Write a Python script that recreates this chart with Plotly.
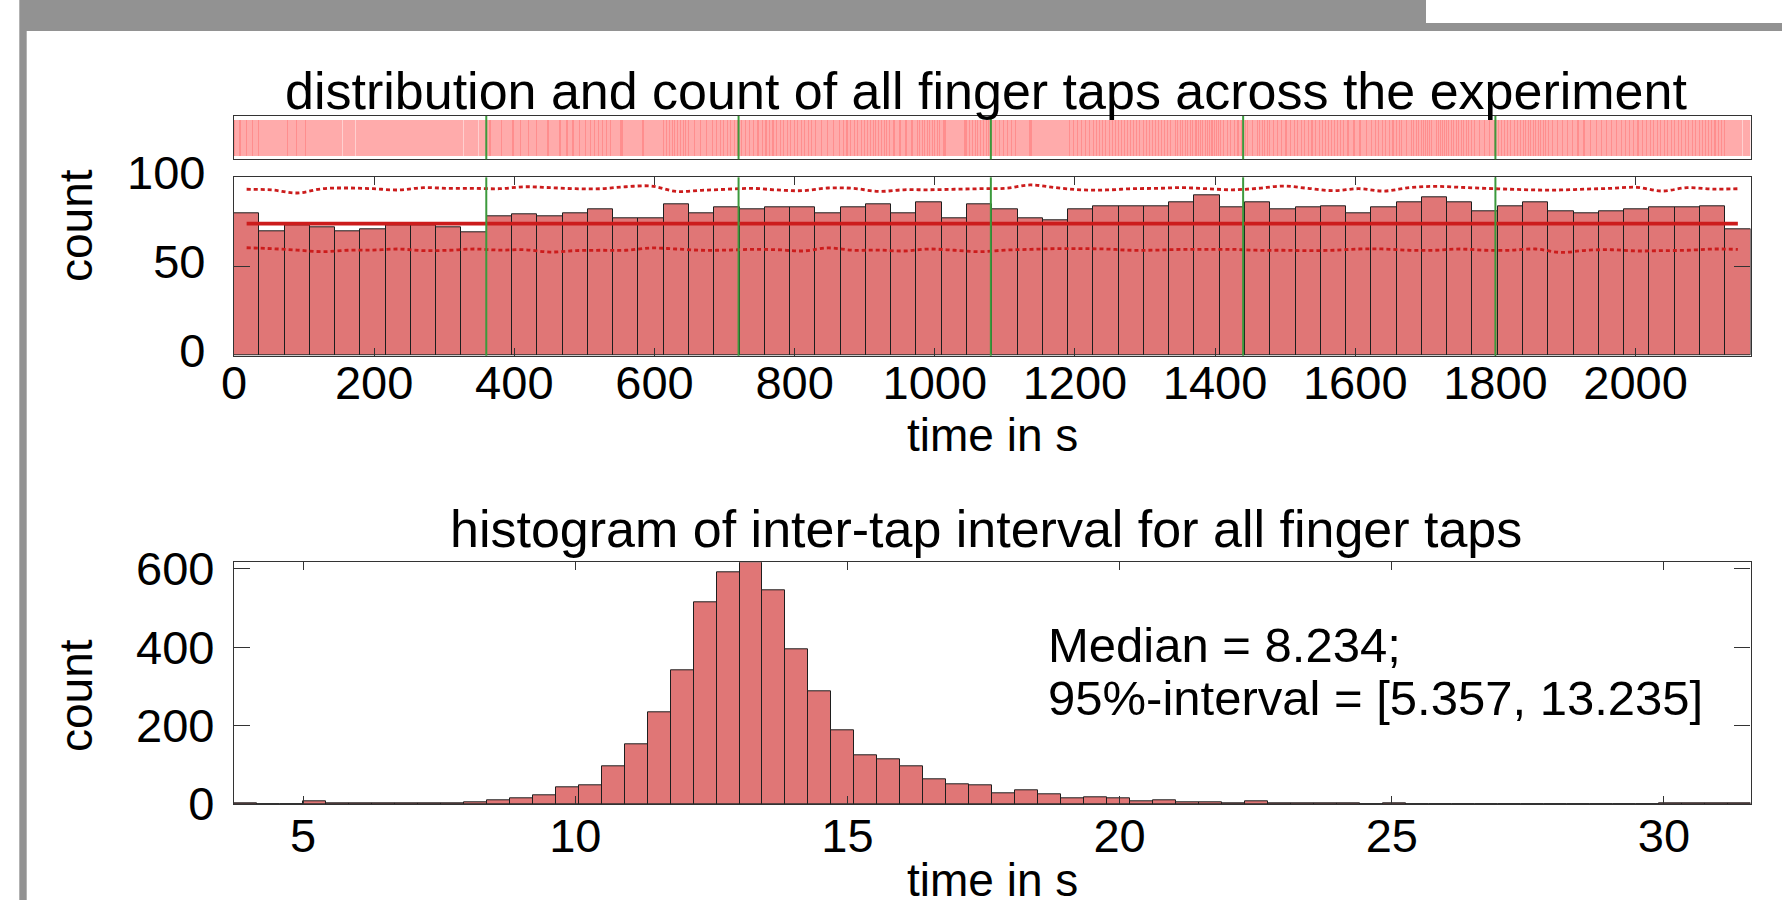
import numpy as np
import plotly.graph_objects as go

W, H = 1782, 900

# ---------------- data: top panel (finger taps across the experiment) ----------------
t_end = 2164.0  # s, time of last tap (histogram spans 0..t_end)
tap_counts = [80, 70, 73, 72, 70, 71, 73, 73, 72, 69,
              78, 79, 78, 80, 82, 77, 77, 85, 80, 83,
              82, 83, 83, 80, 83, 85, 80, 86, 77, 85,
              82, 77, 76, 82, 84, 84, 84, 86, 90, 83,
              86, 82, 83, 84, 80, 83, 86, 89, 86, 81,
              84, 86, 81, 80, 81, 82, 83, 83, 84, 71]
mean_count = 74.0
upper_band = [93.3, 92.9, 91.2, 93.6, 94.0, 93.6, 92.9, 94.2, 93.8, 93.8,
              93.6, 94.7, 94.2, 93.6, 93.6, 94.7, 95.1, 92.1, 92.7, 93.3,
              93.8, 92.9, 92.5, 94.0, 93.8, 92.1, 93.0, 93.0, 93.3, 93.6,
              93.8, 95.7, 94.2, 93.0, 92.9, 93.6, 93.8, 94.2, 93.6, 93.0,
              93.8, 95.1, 93.8, 92.5, 93.6, 92.3, 94.2, 94.9, 94.4, 93.8,
              93.3, 92.9, 92.9, 93.4, 93.8, 94.4, 92.3, 94.2, 93.4, 93.6]
lower_band = [60.5, 60.0, 59.2, 58.3, 59.1, 59.2, 59.8, 58.9, 59.1, 59.8,
              59.2, 59.4, 58.1, 58.9, 59.1, 59.1, 60.4, 59.8, 59.1, 59.2,
              59.6, 59.4, 58.7, 60.4, 59.1, 59.2, 58.7, 59.8, 59.1, 58.3,
              59.2, 59.6, 60.0, 60.0, 59.8, 59.1, 59.2, 59.6, 59.6, 59.6,
              59.1, 59.1, 58.9, 59.1, 59.8, 59.8, 59.1, 59.1, 59.8, 59.1,
              59.1, 59.8, 57.9, 59.1, 59.4, 58.7, 58.9, 59.1, 59.8, 59.6]
block_marks = [360, 720, 1080, 1440, 1800]
top_xticks = [0, 200, 400, 600, 800, 1000, 1200, 1400, 1600, 1800, 2000]
top_yticks = [0, 50, 100]

# ---------------- data: bottom panel (inter-tap interval histogram) ----------------
iti_min, iti_max = 3.73, 31.59
iti_counts = [1, 0, 0, 7, 1, 1, 2, 1, 1, 2,
              5, 9, 14, 22, 42, 47, 96, 153, 233, 340,
              513, 590, 616, 544, 395, 286, 187, 125, 113, 95,
              64, 49, 47, 27, 34, 25, 14, 16, 14, 6,
              10, 4, 5, 2, 6, 1, 1, 1, 2, 0,
              1, 0, 0, 0, 0, 0, 0, 0, 0, 0,
              0, 0, 1, 1, 1, 1]
bot_xticks = [5, 10, 15, 20, 25, 30]
bot_yticks = [0, 200, 400, 600]
stat_lines = ["Median = 8.234;", "95%-interval = [5.357, 13.235]"]

# ---------------- derived ----------------
n_t = len(tap_counts)
t_edges = np.linspace(0, t_end, n_t + 1)
t_w = t_edges[1] - t_edges[0]
t_centers = (t_edges[:-1] + t_edges[1:]) / 2
# tap marks for the raster strip: each bin's taps spread across the bin
tap_times = np.concatenate([t_edges[i] + (np.arange(c) + 0.5) / c * t_w
                            for i, c in enumerate(tap_counts)])

n_i = len(iti_counts)
i_edges = np.linspace(iti_min, iti_max, n_i + 1)
i_w = i_edges[1] - i_edges[0]
i_centers = (i_edges[:-1] + i_edges[1:]) / 2

# ---------------- styling ----------------
FONT = "Liberation Sans, Arial, sans-serif"
BAR = "#e07676"
EDGE = "#1e1e1e"
RED = "#cc1c1c"
GREEN = "#3c9a3c"
AX = "#333333"
GRAY = "#929292"

def px(x):
    return x / W

def py(y):
    return 1 - y / H

X0, X1 = 234, 1750.5

fig = go.Figure()

# raster strip
fig.add_trace(go.Bar(x=tap_times, y=[1] * len(tap_times), width=1.0, base=0,
                     marker=dict(color="rgba(255,40,40,0.22)", line=dict(width=0)),
                     xaxis="x", yaxis="y", hoverinfo="skip"))

# top histogram
fig.add_trace(go.Bar(x=t_centers, y=tap_counts, width=t_w,
                     marker=dict(color=BAR, line=dict(color=EDGE, width=1)),
                     xaxis="x2", yaxis="y2"))
fig.add_trace(go.Scatter(x=[t_centers[0], t_centers[-1]], y=[mean_count, mean_count],
                         mode="lines", line=dict(color=RED, width=3.7),
                         xaxis="x2", yaxis="y2"))
for band in (upper_band, lower_band):
    fig.add_trace(go.Scatter(x=t_centers, y=band, mode="lines",
                             line=dict(color=RED, width=2.8, dash="4px,3px", shape="spline"),
                             xaxis="x2", yaxis="y2"))

# bottom histogram
fig.add_trace(go.Bar(x=i_centers, y=iti_counts, width=i_w,
                     marker=dict(color=BAR, line=dict(color=EDGE, width=1)),
                     xaxis="x3", yaxis="y3"))

tickfont = dict(family=FONT, size=47, color="black")
line_ax = dict(showline=True, linecolor=AX, linewidth=1.3, showgrid=False,
               zeroline=False, tickcolor=AX, tickwidth=1.2, automargin=False)

fig.update_layout(
    template="none",
    width=W, height=H, margin=dict(l=0, r=0, t=0, b=0, pad=0), autosize=False,
    paper_bgcolor="white", plot_bgcolor="white", showlegend=False,
    barmode="overlay", bargap=0,
    xaxis=dict(domain=[px(X0), px(X1)], anchor="y", range=[0, t_end],
               showticklabels=False, ticks="", mirror=True, **line_ax),
    yaxis=dict(domain=[py(159.3), py(116)], anchor="x", range=[-0.1, 1.1],
               showticklabels=False, ticks="", mirror=True, **line_ax),
    xaxis2=dict(domain=[px(X0), px(X1)], anchor="y2", range=[0, t_end],
                tickvals=top_xticks, ticks="inside", ticklen=8, mirror="ticks",
                ticklabelstandoff=-14, tickfont=tickfont, **line_ax),
    yaxis2=dict(domain=[py(355.7), py(177.3)], anchor="x2", range=[0, 100],
                tickvals=top_yticks, ticks="inside", ticklen=16, mirror="ticks",
                ticklabelstandoff=18, ticklabelshift=-5, tickfont=tickfont, **line_ax),
    xaxis3=dict(domain=[px(X0), px(X1)], anchor="y3", range=[iti_min, iti_max],
                tickvals=bot_xticks, ticks="inside", ticklen=8, mirror="ticks",
                ticklabelstandoff=-10, tickfont=tickfont, **line_ax),
    yaxis3=dict(domain=[py(804), py(562.3)], anchor="x3", range=[0, max(iti_counts)],
                tickvals=bot_yticks, ticks="inside", ticklen=16, mirror="ticks",
                ticklabelstandoff=9, tickfont=tickfont, **line_ax),
)

shapes = []
for m in block_marks:
    for xr, yr in (("x", "y domain"), ("x2", "y2 domain")):
        shapes.append(dict(type="line", xref=xr, yref=yr,
                           x0=m, x1=m, y0=0, y1=1, line=dict(color=GREEN, width=2), layer="above"))
# slide frame (gray header band and left border)
shapes.append(dict(type="rect", xref="paper", yref="paper", x0=px(19.3), x1=px(1426),
                   y0=py(31), y1=1, fillcolor=GRAY, line=dict(width=0), layer="above"))
shapes.append(dict(type="rect", xref="paper", yref="paper", x0=px(1426), x1=1,
                   y0=py(31), y1=py(23), fillcolor=GRAY, line=dict(width=0), layer="above"))
shapes.append(dict(type="rect", xref="paper", yref="paper", x0=px(19.3), x1=px(26.7),
                   y0=0, y1=py(31), fillcolor=GRAY, line=dict(width=0), layer="above"))
fig.update_layout(shapes=shapes)

def ann(text, x, y, size, xanchor="center", angle=0):
    return dict(text=text, x=px(x), y=py(y), xref="paper", yref="paper",
                xanchor=xanchor, yanchor="middle", showarrow=False, textangle=angle,
                font=dict(family=FONT, size=size, color="black"))

annotations = [
    ann("distribution and count of all finger taps across the experiment", 986, 91, 52),
    ann("time in s", 992, 435, 46),
    ann("count", 76, 226, 46, angle=-90),
    ann("histogram of inter-tap interval for all finger taps", 986, 529, 52),
    ann("time in s", 992, 880, 46),
    ann("count", 76, 696, 46, angle=-90),
    ann(stat_lines[0], 1045.7, 645, 49, xanchor="left"),
    ann(stat_lines[1], 1045.7, 698, 49, xanchor="left"),
]
fig.update_layout(annotations=annotations)

fig.write_html("out.html")
